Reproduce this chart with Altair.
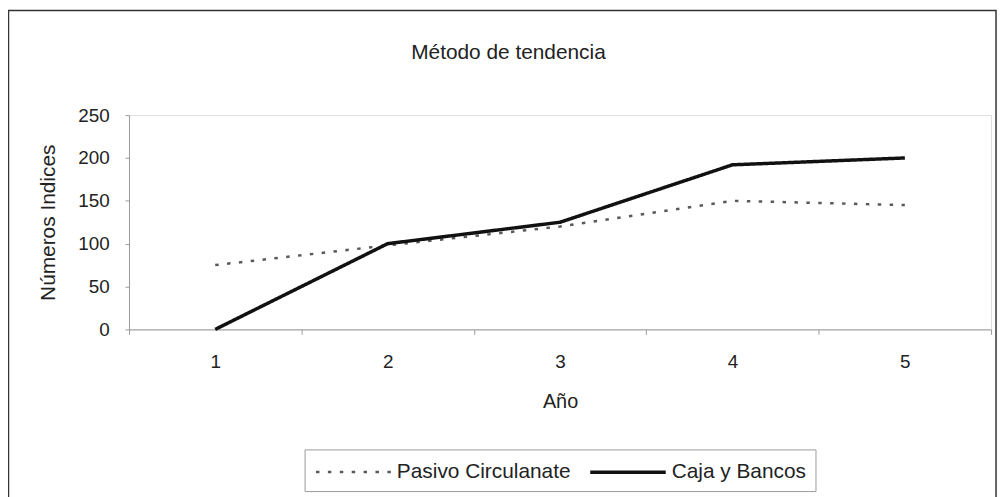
import altair as alt
import pandas as pd

# ---- data ----
anios = [1, 2, 3, 4, 5]
series = ["Pasivo Circulanate", "Caja y Bancos"]
pasivo = [75, 98, 120, 150, 145]
caja = [0, 100, 125, 192, 200]
y_ticks = [0, 50, 100, 150, 200, 250]

rows = []
for a, p, c in zip(anios, pasivo, caja):
    rows.append({"anio": a, "serie": series[0], "valor": p})
    rows.append({"anio": a, "serie": series[1], "valor": c})
df = pd.DataFrame(rows)

FONT = "Liberation Sans"
TXT = "#222222"
AX = "#9a9a9a"

legend = alt.Legend(
    orient="none", legendX=177, legendY=337, direction="horizontal", title=None,
    symbolType="M-0.92,0H5.42", symbolSize=576, labelOffset=57, columnPadding=11,
    padding=9, strokeColor="#9a9a9a", fillColor="white", labelFont=FONT,
    labelFontSize=21, labelColor=TXT, symbolFillColor="transparent", labelLimit=400,
    cornerRadius=0,
)

lines = alt.Chart(df).mark_line(strokeCap="butt").encode(
    x=alt.X(
        "anio:O",
        scale=alt.Scale(type="band", paddingInner=0, paddingOuter=0),
        bandPosition=0.5,
        axis=alt.Axis(
            title="Año", tickBand="extent", labelAngle=0, labelFont=FONT,
            labelFontSize=19, labelColor=TXT, labelPadding=18, tickSize=5,
            tickColor=AX, domainColor=AX, domainWidth=1, grid=False,
            titleFont=FONT, titleFontSize=20, titleFontWeight="normal",
            titleColor=TXT, titleY=73, titleBaseline="middle",
        ),
    ),
    y=alt.Y(
        "valor:Q",
        scale=alt.Scale(domain=[0, 250], nice=False),
        axis=alt.Axis(
            values=y_ticks, grid=False, labelFont=FONT, labelFontSize=19,
            labelColor=TXT, labelPadding=16, tickSize=4, tickColor=AX,
            domainColor=AX, domainWidth=1, title="Números Indices",
            titleFont=FONT, titleFontSize=21, titleFontWeight="normal",
            titleColor=TXT, titleX=-81, titleY=108, titleAngle=270,
            titleBaseline="middle", titleAlign="center",
        ),
    ),
    color=alt.Color("serie:N", scale=alt.Scale(domain=series, range=["#5a5a5a", "#111111"]), legend=legend),
    strokeDash=alt.StrokeDash("serie:N", scale=alt.Scale(domain=series, range=[[3.5, 8.5], [1, 0]]), legend=legend),
    strokeWidth=alt.StrokeWidth("serie:N", scale=alt.Scale(domain=series, range=[2.5, 3.5]), legend=legend),
)

frame = alt.Chart(pd.DataFrame({"k": [0]})).mark_rect(
    filled=False, stroke="#333333", strokeWidth=1.5
).encode(
    x=alt.value(-121.5), x2=alt.value(874), y=alt.value(-105.5), y2=alt.value(420)
)

chart = alt.layer(frame, lines).properties(
    width=869,
    height=216,
    title=alt.TitleParams(
        text="Método de tendencia", font=FONT, fontSize=21, fontWeight="normal",
        color=TXT, anchor="middle", frame="group", dx=-52, offset=-71,
        baseline="alphabetic",
    ),
    padding={"left": 122, "top": 106, "right": 8, "bottom": 167},
    autosize=alt.AutoSizeParams(type="none"),
).configure_view(stroke=None).configure(background="white")

chart.save("out.html", embed_options={"renderer": "svg", "actions": False})
